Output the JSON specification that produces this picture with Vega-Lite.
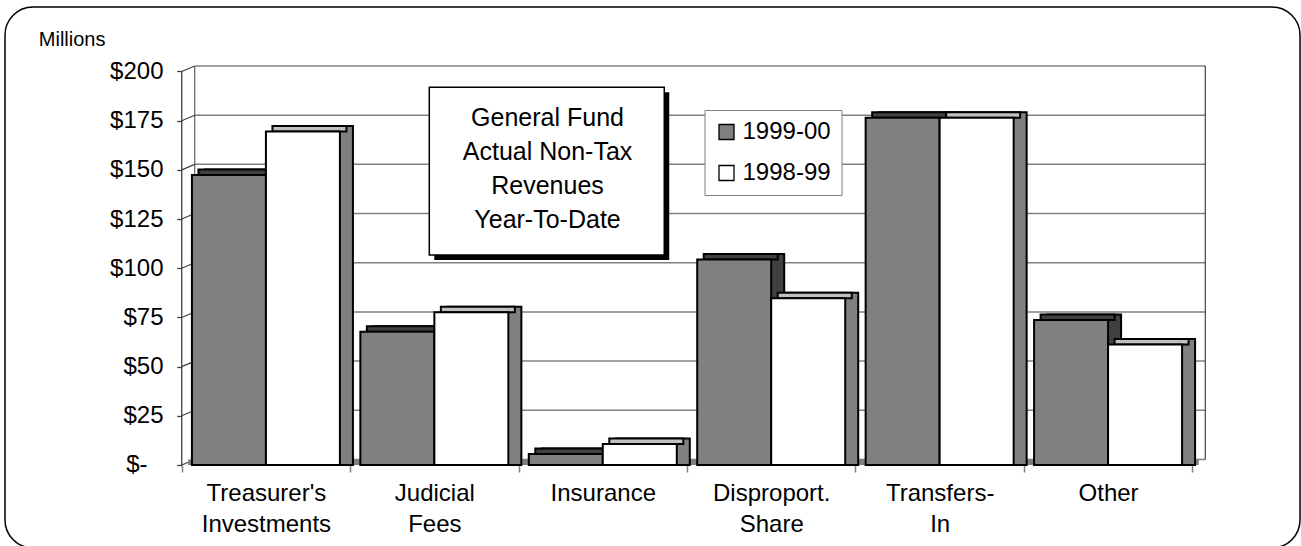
{
  "$schema": "https://vega.github.io/schema/vega-lite/v6.json",
  "width": 1295,
  "height": 541,
  "autosize": {"type": "none"},
  "padding": {"left": 5, "top": 7, "right": 1, "bottom": 0},
  "background": "white",
  "view": {"stroke": "black", "strokeWidth": 1.5, "cornerRadius": 28, "fill": "white"},
  "config": {"font": "Liberation Sans"},
  "datasets": {
    "revenues": [
      {"category": "Treasurer's Investments", "year": "1999-00", "value": 147.4},
      {"category": "Treasurer's Investments", "year": "1998-99", "value": 169.5},
      {"category": "Judicial Fees", "year": "1999-00", "value": 67.7},
      {"category": "Judicial Fees", "year": "1998-99", "value": 77.6},
      {"category": "Insurance", "year": "1999-00", "value": 5.6},
      {"category": "Insurance", "year": "1998-99", "value": 10.7},
      {"category": "Disproport. Share", "year": "1999-00", "value": 104.5},
      {"category": "Disproport. Share", "year": "1998-99", "value": 84.7},
      {"category": "Transfers-In", "year": "1999-00", "value": 176.5},
      {"category": "Transfers-In", "year": "1998-99", "value": 176.5},
      {"category": "Other", "year": "1999-00", "value": 73.7},
      {"category": "Other", "year": "1998-99", "value": 61.3}
    ],
    "ticks": [{"v": 0}, {"v": 25}, {"v": 50}, {"v": 75}, {"v": 100}, {"v": 125}, {"v": 150}, {"v": 175}, {"v": 200}]
  },
  "resolve": {
    "scale": {"x": "independent", "xOffset": "independent"},
    "axis": {"x": "independent", "y": "independent"}
  },
  "layer": [
    {
      "data": {"name": "ticks"},
      "mark": {"type": "rule", "color": "#808080", "strokeWidth": 1.5, "xOffset": 13, "x2Offset": 13, "yOffset": -5.5},
      "encoding": {
        "x": {"datum": "Treasurer's Investments", "bandPosition": 0, "type": "nominal", "axis": null,
              "scale": {"type": "band", "domain": ["Treasurer's Investments", "Judicial Fees", "Insurance", "Disproport. Share", "Transfers-In", "Other"], "paddingInner": 0, "paddingOuter": 0.8443, "align": 0.6213}},
        "x2": {"datum": "Other", "bandPosition": 1},
        "y": {"field": "v", "type": "quantitative", "axis": null, "scale": {"domain": [-42.19, 232.78], "nice": false, "zero": false}}
      }
    },
    {
      "data": {"values": [{}]},
      "mark": {"type": "rule", "color": "#606060", "strokeWidth": 1.2, "xOffset": 13, "yOffset": -5.5, "y2Offset": -5.5},
      "encoding": {
        "x": {"datum": "Treasurer's Investments", "bandPosition": 0, "type": "nominal", "axis": null,
              "scale": {"type": "band", "domain": ["Treasurer's Investments", "Judicial Fees", "Insurance", "Disproport. Share", "Transfers-In", "Other"], "paddingInner": 0, "paddingOuter": 0.8443, "align": 0.6213}},
        "y": {"datum": 0, "type": "quantitative", "axis": null, "scale": {"domain": [-42.19, 232.78], "nice": false, "zero": false}},
        "y2": {"datum": 200}
      }
    },
    {
      "data": {"values": [{}]},
      "mark": {"type": "rule", "color": "#404040", "strokeWidth": 1.2, "xOffset": 13, "yOffset": -5.5, "y2Offset": -5.5},
      "encoding": {
        "x": {"datum": "Other", "bandPosition": 1, "type": "nominal", "axis": null,
              "scale": {"type": "band", "domain": ["Treasurer's Investments", "Judicial Fees", "Insurance", "Disproport. Share", "Transfers-In", "Other"], "paddingInner": 0, "paddingOuter": 0.8443, "align": 0.6213}},
        "y": {"datum": 0, "type": "quantitative", "axis": null, "scale": {"domain": [-42.19, 232.78], "nice": false, "zero": false}},
        "y2": {"datum": 200}
      }
    },
    {
      "data": {"name": "ticks"},
      "mark": {"type": "rule", "color": "#404040", "strokeWidth": 1.2, "x2Offset": 13, "y2Offset": -5.5},
      "encoding": {
        "x": {"datum": "Treasurer's Investments", "bandPosition": 0, "type": "nominal", "axis": null,
              "scale": {"type": "band", "domain": ["Treasurer's Investments", "Judicial Fees", "Insurance", "Disproport. Share", "Transfers-In", "Other"], "paddingInner": 0, "paddingOuter": 0.8443, "align": 0.6213}},
        "x2": {"datum": "Treasurer's Investments", "bandPosition": 0},
        "y": {"field": "v", "type": "quantitative", "axis": null, "scale": {"domain": [-42.19, 232.78], "nice": false, "zero": false}},
        "y2": {"field": "v"}
      }
    },
    {
      "data": {"values": [{}]},
      "mark": {"type": "rule", "color": "#808080", "strokeWidth": 5.5, "xOffset": 6.5, "x2Offset": 6.5, "yOffset": -2.75},
      "encoding": {
        "x": {"datum": "Treasurer's Investments", "bandPosition": 0, "type": "nominal", "axis": null,
              "scale": {"type": "band", "domain": ["Treasurer's Investments", "Judicial Fees", "Insurance", "Disproport. Share", "Transfers-In", "Other"], "paddingInner": 0, "paddingOuter": 0.8443, "align": 0.6213}},
        "x2": {"datum": "Other", "bandPosition": 1},
        "y": {"datum": 0, "type": "quantitative", "axis": null, "scale": {"domain": [-42.19, 232.78], "nice": false, "zero": false}}
      }
    },
    {
      "data": {"name": "revenues"},
      "transform": [{"filter": "datum.year == '1999-00'"}],
      "mark": {"type": "bar", "fill": "#404040", "stroke": "black", "strokeWidth": 2, "yOffset": -5.5, "y2Offset": -5.5},
      "encoding": {
        "x": {"field": "category", "type": "nominal", "axis": null,
              "scale": {"domain": ["Treasurer's Investments", "Judicial Fees", "Insurance", "Disproport. Share", "Transfers-In", "Other"], "paddingInner": 0, "paddingOuter": 0.8443, "align": 0.667}},
        "xOffset": {"field": "year", "type": "nominal", "scale": {"domain": ["1999-00", "1998-99"], "paddingInner": 0, "paddingOuter": 0.138}},
        "y": {"field": "value", "type": "quantitative", "stack": null, "axis": null, "scale": {"domain": [-42.19, 232.78], "nice": false, "zero": false}}
      }
    },
    {
      "data": {"name": "revenues"},
      "transform": [{"filter": "datum.year == '1998-99'"}],
      "mark": {"type": "bar", "fill": "#808080", "stroke": "black", "strokeWidth": 2, "yOffset": -5.5, "y2Offset": -5.5},
      "encoding": {
        "x": {"field": "category", "type": "nominal", "axis": null,
              "scale": {"domain": ["Treasurer's Investments", "Judicial Fees", "Insurance", "Disproport. Share", "Transfers-In", "Other"], "paddingInner": 0, "paddingOuter": 0.8443, "align": 0.667}},
        "xOffset": {"field": "year", "type": "nominal", "scale": {"domain": ["1999-00", "1998-99"], "paddingInner": 0, "paddingOuter": 0.138}},
        "y": {"field": "value", "type": "quantitative", "stack": null, "axis": null, "scale": {"domain": [-42.19, 232.78], "nice": false, "zero": false}}
      }
    },
    {
      "data": {"name": "revenues"},
      "transform": [{"filter": "datum.year == '1999-00'"}],
      "mark": {"type": "bar", "fill": "#404040", "stroke": "black", "strokeWidth": 2, "yOffset": -5.5, "y2Offset": 0},
      "encoding": {
        "x": {"field": "category", "type": "nominal", "axis": null,
              "scale": {"domain": ["Treasurer's Investments", "Judicial Fees", "Insurance", "Disproport. Share", "Transfers-In", "Other"], "paddingInner": 0, "paddingOuter": 0.8443, "align": 0.6442}},
        "xOffset": {"field": "year", "type": "nominal", "scale": {"domain": ["1999-00", "1998-99"], "paddingInner": 0, "paddingOuter": 0.138}},
        "y": {"field": "value", "type": "quantitative", "stack": null, "axis": null, "scale": {"domain": [-42.19, 232.78], "nice": false, "zero": false}},
        "y2": {"field": "value"}
      }
    },
    {
      "data": {"name": "revenues"},
      "transform": [{"filter": "datum.year == '1998-99'"}],
      "mark": {"type": "bar", "fill": "#c0c0c0", "stroke": "black", "strokeWidth": 2, "yOffset": -5.5, "y2Offset": 0},
      "encoding": {
        "x": {"field": "category", "type": "nominal", "axis": null,
              "scale": {"domain": ["Treasurer's Investments", "Judicial Fees", "Insurance", "Disproport. Share", "Transfers-In", "Other"], "paddingInner": 0, "paddingOuter": 0.8443, "align": 0.6442}},
        "xOffset": {"field": "year", "type": "nominal", "scale": {"domain": ["1999-00", "1998-99"], "paddingInner": 0, "paddingOuter": 0.138}},
        "y": {"field": "value", "type": "quantitative", "stack": null, "axis": null, "scale": {"domain": [-42.19, 232.78], "nice": false, "zero": false}},
        "y2": {"field": "value"}
      }
    },
    {
      "data": {"name": "revenues"},
      "mark": {"type": "bar", "stroke": "black", "strokeWidth": 2, "opacity": 1},
      "encoding": {
        "x": {"field": "category", "type": "nominal",
              "scale": {"domain": ["Treasurer's Investments", "Judicial Fees", "Insurance", "Disproport. Share", "Transfers-In", "Other"], "paddingInner": 0, "paddingOuter": 0.8443, "align": 0.6213},
              "axis": {"orient": "bottom", "offset": -83, "domain": false, "grid": false, "tickBand": "extent", "tickSize": 7, "tickColor": "#808080", "tickWidth": 1.5,
                       "labelFontSize": 24, "labelColor": "black", "labelFont": "Liberation Sans", "labelLineHeight": 31, "labelPadding": 9, "labelAngle": 0,
                       "labelExpr": "datum.label == 'Transfers-In' ? ['Transfers-', 'In'] : split(datum.label, ' ')", "title": null}},
        "xOffset": {"field": "year", "type": "nominal", "scale": {"domain": ["1999-00", "1998-99"], "paddingInner": 0, "paddingOuter": 0.138}},
        "y": {"field": "value", "type": "quantitative", "stack": null,
              "scale": {"domain": [-42.19, 232.78], "nice": false, "zero": false},
              "axis": {"orient": "left", "offset": -176.7, "values": [0, 25, 50, 75, 100, 125, 150, 175, 200], "domain": false, "grid": false,
                       "tickSize": 5, "tickColor": "#404040", "tickWidth": 1.3, "labelFontSize": 24,
                       "labelPadding": {"condition": {"test": "datum.value == 0", "value": 29.7}, "value": 13.7},
                       "labelColor": "black", "labelFont": "Liberation Sans",
                       "labelExpr": "datum.value == 0 ? '$-' : '$' + datum.value",
                       "title": "Millions", "titleAngle": 0, "titleX": -143.4, "titleY": 38, "titleAlign": "left", "titleBaseline": "alphabetic",
                       "titleFontSize": 20, "titleFontWeight": "normal", "titleColor": "black", "titleFont": "Liberation Sans"}},
        "color": {"field": "year", "type": "nominal",
                  "scale": {"domain": ["1999-00", "1998-99"], "range": ["#808080", "#ffffff"]},
                  "legend": {"orient": "none", "legendX": 699.5, "legendY": 103, "direction": "vertical", "title": null, "padding": 10,
                             "strokeColor": "#808080", "fillColor": "white", "symbolType": "square", "symbolSize": 225,
                             "symbolStrokeColor": "black", "symbolStrokeWidth": 1.3, "labelFontSize": 24, "labelOffset": 4, "rowPadding": 17,
                             "labelColor": "black", "labelFont": "Liberation Sans", "cornerRadius": 0}}
      }
    },
    {
      "data": {"values": [{}]},
      "mark": {"type": "rule", "color": "#404040", "strokeWidth": 1.3},
      "encoding": {
        "x": {"datum": "Treasurer's Investments", "bandPosition": 0, "type": "nominal", "axis": null,
              "scale": {"type": "band", "domain": ["Treasurer's Investments", "Judicial Fees", "Insurance", "Disproport. Share", "Transfers-In", "Other"], "paddingInner": 0, "paddingOuter": 0.8443, "align": 0.6213}},
        "y": {"datum": 0, "type": "quantitative", "axis": null, "scale": {"domain": [-42.19, 232.78], "nice": false, "zero": false}},
        "y2": {"datum": 200}
      }
    },
    {
      "data": {"values": [{}]},
      "mark": {"type": "rect", "fill": "black", "xOffset": 5, "x2Offset": 5, "yOffset": 5, "y2Offset": 5},
      "encoding": {
        "x": {"datum": "Judicial Fees", "bandPosition": 0.47, "type": "nominal", "axis": null,
              "scale": {"type": "band", "domain": ["Treasurer's Investments", "Judicial Fees", "Insurance", "Disproport. Share", "Transfers-In", "Other"], "paddingInner": 0, "paddingOuter": 0.8443, "align": 0.6213}},
        "x2": {"datum": "Insurance", "bandPosition": 0.865},
        "y": {"datum": 192, "type": "quantitative", "axis": null, "scale": {"domain": [-42.19, 232.78], "nice": false, "zero": false}},
        "y2": {"datum": 106.7}
      }
    },
    {
      "data": {"values": [{}]},
      "mark": {"type": "rect", "fill": "white", "stroke": "black", "strokeWidth": 1.5},
      "encoding": {
        "x": {"datum": "Judicial Fees", "bandPosition": 0.47, "type": "nominal", "axis": null,
              "scale": {"type": "band", "domain": ["Treasurer's Investments", "Judicial Fees", "Insurance", "Disproport. Share", "Transfers-In", "Other"], "paddingInner": 0, "paddingOuter": 0.8443, "align": 0.6213}},
        "x2": {"datum": "Insurance", "bandPosition": 0.865},
        "y": {"datum": 192, "type": "quantitative", "axis": null, "scale": {"domain": [-42.19, 232.78], "nice": false, "zero": false}},
        "y2": {"datum": 106.7}
      }
    },
    {
      "data": {"values": [{}]},
      "mark": {"type": "text", "fontSize": 25, "lineHeight": 34, "align": "center", "baseline": "middle", "font": "Liberation Sans", "color": "black"},
      "encoding": {
        "x": {"datum": "Insurance", "bandPosition": 0.172, "type": "nominal", "axis": null,
              "scale": {"type": "band", "domain": ["Treasurer's Investments", "Judicial Fees", "Insurance", "Disproport. Share", "Transfers-In", "Other"], "paddingInner": 0, "paddingOuter": 0.8443, "align": 0.6213}},
        "y": {"datum": 176.2, "type": "quantitative", "axis": null, "scale": {"domain": [-42.19, 232.78], "nice": false, "zero": false}},
        "text": {"value": ["General Fund", "Actual Non-Tax", "Revenues", "Year-To-Date"]}
      }
    }
  ]
}
